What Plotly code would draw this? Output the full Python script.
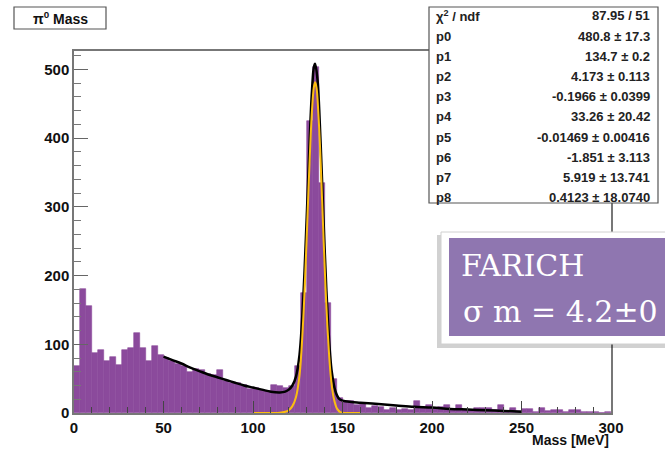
import plotly.graph_objects as go

# ---------------- data ----------------
BIN_W = 10.0 / 3.0  # 90 bins over 0-300 MeV
counts = [68, 181, 155, 87, 92, 76, 81, 70, 92, 95,
          117, 95, 75, 97, 84, 80, 76, 72, 68, 60,
          64, 62, 57, 55, 62, 47, 44, 44, 41, 35,
          37, 34, 32, 41, 40, 36, 40, 68, 175, 425,
          503, 335, 160, 50, 22, 18, 17, 12, 14, 7,
          10, 9, 5, 8, 5, 6, 5, 17, 9, 12,
          8, 9, 11, 6, 12, 5, 4, 8, 8, 7,
          4, 11, 3, 8, 3, 6, 6, 2, 8, 3,
          5, 5, 2, 4, 4, 2, 1, 2, 0, 1]
bin_centers = [(i + 0.5) * BIN_W for i in range(len(counts))]

fit_x = [50, 55, 60, 65, 70, 75, 80, 85, 90, 95, 100, 105, 110, 115, 118, 120,
         122, 124, 126, 128, 130, 132, 133, 134, 134.7, 136, 137, 138, 139,
         140, 141, 142, 143, 144, 146, 148, 150, 155, 160, 170, 180, 190, 200,
         210, 220, 230, 240, 250]
fit_y = [82, 77, 72, 66, 61, 56, 52, 48, 44, 40, 37, 34, 31, 30, 31, 34,
         40, 53, 85, 163, 284, 419, 471, 503, 508, 486, 441, 378, 309,
         240, 178, 128, 88, 60, 32, 21, 18, 16, 15, 13, 11, 9, 8,
         6, 5, 4, 3, 2]

gaus_x = [100, 110, 115, 118, 120, 122, 124, 126, 128, 130, 131, 132, 133, 134,
          134.7, 135.5, 136.5, 137.5, 138.5, 139.5, 140.5, 141.5, 142.5, 143.5,
          145, 147, 149, 152, 160]
gaus_y = [0, 0, 0.3, 1.7, 4, 10, 23, 55, 133, 255, 325, 390, 442, 474,
          481, 473, 436, 384, 316, 248, 183, 128, 85, 52,
          23, 6, 1, 0, 0]

stat_labels = ["χ<sup>2</sup> / ndf", "p0", "p1", "p2", "p3", "p4", "p5", "p6", "p7", "p8"]
stat_values = ["87.95 / 51", "480.8 ± 17.3", "134.7 ± 0.2", "4.173 ± 0.113",
               "-0.1966 ± 0.0399", "33.26 ± 20.42", "-0.01469 ± 0.00416",
               "-1.851 ± 3.113", "5.919 ± 13.741", "0.4123 ± 18.0740"]

x_ticks = [0, 50, 100, 150, 200, 250, 300]
y_ticks = [0, 100, 200, 300, 400, 500]

# ---------------- layout helpers (pixel -> paper) ----------------
L, R, T, B = 74, 611, 51, 413
W, H = R - L, B - T


def px(x):
    return (x - L) / W


def py(y):
    return (B - y) / H


PURPLE = "#8b4a9c"
FONT = "Liberation Sans"

fig = go.Figure()
fig.add_trace(go.Bar(x=bin_centers, y=counts, width=BIN_W,
                     marker=dict(color=PURPLE, line=dict(color=PURPLE, width=0.6)),
                     hoverinfo="skip"))
fig.add_trace(go.Scatter(x=fit_x, y=fit_y, mode="lines", line_shape="spline",
                         line=dict(color="black", width=2.5), hoverinfo="skip"))
fig.add_trace(go.Scatter(x=gaus_x, y=gaus_y, mode="lines", line_shape="spline",
                         line=dict(color="#fbbd10", width=2), hoverinfo="skip"))

shapes = []
annotations = []

# title box
shapes.append(dict(type="rect", xref="paper", yref="paper",
                   x0=px(14), x1=px(106), y0=py(29), y1=py(7),
                   line=dict(color="#555", width=1.2), fillcolor="white"))
annotations.append(dict(xref="paper", yref="paper", x=px(60), y=py(18),
                        text="π<sup>0</sup> Mass", showarrow=False,
                        font=dict(family=FONT, size=14, color="#111", weight="bold"),
                        xanchor="center", yanchor="middle"))

# stats box
shapes.append(dict(type="rect", xref="paper", yref="paper",
                   x0=px(429), x1=px(658), y0=py(203), y1=py(7),
                   line=dict(color="#555", width=1.2), fillcolor="white"))
for i, (lab, val) in enumerate(zip(stat_labels, stat_values)):
    yy = py(16 + 20.2 * i)
    annotations.append(dict(xref="paper", yref="paper", x=px(434), y=yy, text=lab,
                            showarrow=False, xanchor="left", yanchor="middle",
                            font=dict(family=FONT, size=13, color="#222", weight="bold")))
    annotations.append(dict(xref="paper", yref="paper", x=px(652), y=yy, text=val,
                            showarrow=False, xanchor="right", yanchor="middle",
                            font=dict(family=FONT, size=13, color="#222", weight="bold")))

# FARICH overlay box (with soft shadow)
shapes.append(dict(type="rect", xref="paper", yref="paper",
                   x0=px(437), x1=px(700), y0=py(348), y1=py(235),
                   line=dict(width=0), fillcolor="rgba(0,0,0,0.18)"))
shapes.append(dict(type="rect", xref="paper", yref="paper",
                   x0=px(441), x1=px(700), y0=py(344), y1=py(232),
                   line=dict(color="#d0d0d0", width=1), fillcolor="white"))
shapes.append(dict(type="rect", xref="paper", yref="paper",
                   x0=px(449), x1=px(700), y0=py(336), y1=py(238),
                   line=dict(width=0), fillcolor="#8f76b0"))
annotations.append(dict(xref="paper", yref="paper", x=px(459), y=py(265), text="FARICH",
                        showarrow=False, xanchor="left", yanchor="middle",
                        font=dict(family="DejaVu Serif", size=30, color="white")))
annotations.append(dict(xref="paper", yref="paper", x=px(461), y=py(311),
                        text="σ m = 4.2±0",
                        showarrow=False, xanchor="left", yanchor="middle",
                        font=dict(family="DejaVu Serif", size=30, color="white")))

# x-axis title
annotations.append(dict(xref="paper", yref="paper", x=px(611), y=py(440),
                        text="Mass [MeV]", showarrow=False, xanchor="right",
                        yanchor="middle",
                        font=dict(family=FONT, size=14, color="#111", weight="bold")))

fig.update_layout(
    width=665, height=452,
    margin=dict(l=L, r=665 - R, t=T, b=452 - B),
    paper_bgcolor="white", plot_bgcolor="white",
    showlegend=False, bargap=0,
    shapes=shapes, annotations=annotations,
)
fig.update_xaxes(range=[0, 300], tickvals=x_ticks, ticktext=[str(v) for v in x_ticks],
                 ticks="inside", ticklen=12, tickwidth=1.3, tickcolor="#444",
                 minor=dict(ticks="inside", ticklen=6, dtick=10, tickcolor="#444", tickwidth=1.2),
                 showline=True, mirror=True, linecolor="#777", linewidth=1.5,
                 showgrid=False, zeroline=False,
                 tickfont=dict(family=FONT, size=15, color="#111", weight="bold"))
fig.update_yaxes(range=[0, 526.6], tickvals=y_ticks, ticktext=[str(v) for v in y_ticks],
                 ticks="inside", ticklen=14, tickwidth=1.3, tickcolor="#666",
                 minor=dict(ticks="inside", ticklen=7, dtick=20, tickcolor="#777", tickwidth=1.2),
                 showline=True, mirror=True, linecolor="#777", linewidth=1.5,
                 showgrid=False, zeroline=False,
                 tickfont=dict(family=FONT, size=15, color="#111", weight="bold"))

fig.write_html("out.html")
